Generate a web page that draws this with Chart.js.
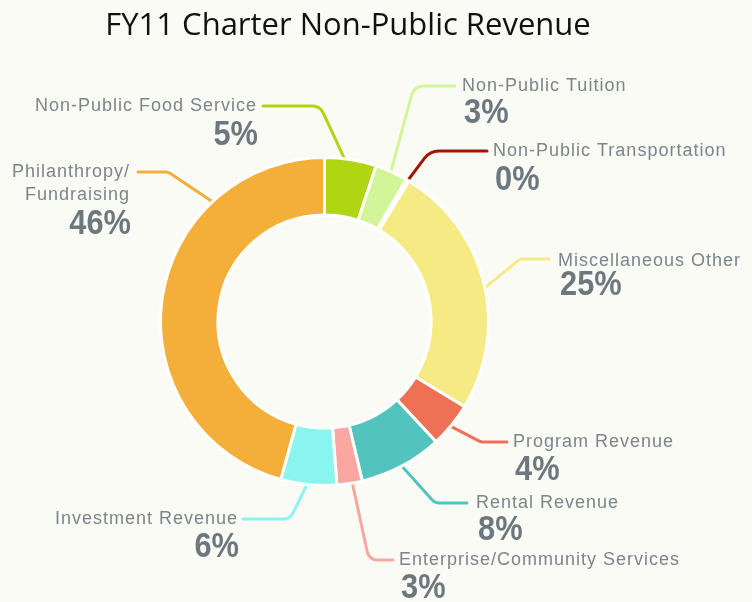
<!DOCTYPE html>
<html>
<head>
<meta charset="utf-8">
<title>FY11 Charter Non-Public Revenue</title>
<script src="https://cdn.jsdelivr.net/npm/chart.js@4.4.1/dist/chart.umd.min.js"></script>
<style>
  html, body { margin: 0; padding: 0; background: #fbfbf6; }
  #wrap { width: 752px; height: 602px; position: relative; }
</style>
</head>
<body>
<div id="wrap"><canvas id="revenueChart" width="752" height="602"></canvas></div>
<script>
const chartTitle = 'FY11 Charter Non-Public Revenue';
const categories = [
  'Non-Public Food Service',
  'Non-Public Tuition',
  'Non-Public Transportation',
  'Miscellaneous Other',
  'Program Revenue',
  'Rental Revenue',
  'Enterprise/Community Services',
  'Investment Revenue',
  'Philanthropy/Fundraising'
];
const shares = [5.1, 3.2, 0.3, 25.1, 4.4, 8.2, 2.5, 5.5, 45.7];
const pctLabels = ['5%', '3%', '0%', '25%', '4%', '8%', '3%', '6%', '46%'];
const sliceColors = ['#b0d513', '#d2f597', '#9b1a00', '#f6ea84', '#ee7055', '#52c4bd', '#f9a7a0', '#8af5ef', '#f4af3a'];

// callout placement: where the leader leaves the slice (t), bend, end, and text anchor
const callouts = [
  { t: 0.43, elbow: [320, 106], end: [263, 106], r: 12, align: 'right', tx: 256, ty: 106, py: 135 },
  { t: 0.5,  elbow: [414, 86],  end: [455, 86],  r: 12, align: 'left',  tx: 462, ty: 86,  py: 113 },
  { t: 0.5,  elbow: [430, 151], end: [487, 151], r: 18, align: 'left',  tx: 493, ty: 151, py: 180 },
  { t: 0.53, elbow: [520, 259], end: [549, 259], r: 6,  align: 'left',  tx: 558, ty: 261, py: 285 },
  { t: 0.55, elbow: [481, 442], end: [507, 442], r: 8,  align: 'left',  tx: 513, ty: 442, py: 470 },
  { t: 0.51, elbow: [435, 503], end: [467, 503], r: 10, align: 'left',  tx: 476, ty: 503, py: 530 },
  { t: 0.4,  elbow: [369, 560], end: [393, 560], r: 10, align: 'left',  tx: 399, ty: 560, py: 588 },
  { t: 0.5,  elbow: [290, 519], end: [243, 519], r: 10, align: 'right', tx: 237, ty: 519, py: 547 },
  { t: 0.74, elbow: [168, 172], end: [138, 172], r: 8,  align: 'right', tx: 129, ty: 172, py: 224, wrap: true }
];

const labelFont = '18px "Liberation Sans", Arial, sans-serif';
const pctFont = 'bold 35px "Liberation Sans", Arial, sans-serif';

const calloutPlugin = {
  id: 'callouts',
  beforeDatasetsDraw(chart) {
    const ctx = chart.ctx;
    const arcs = chart.getDatasetMeta(0).data;
    ctx.save();
    ctx.lineWidth = 3;
    ctx.lineCap = 'round';
    ctx.lineJoin = 'round';
    arcs.forEach((arc, i) => {
      const c = callouts[i];
      const p = arc.getProps(['x', 'y', 'startAngle', 'endAngle', 'outerRadius'], true);
      const a = p.startAngle + c.t * (p.endAngle - p.startAngle);
      const sx = p.x + Math.cos(a) * (p.outerRadius - 4);
      const sy = p.y + Math.sin(a) * (p.outerRadius - 4);
      ctx.strokeStyle = sliceColors[i];
      ctx.beginPath();
      ctx.moveTo(sx, sy);
      ctx.arcTo(c.elbow[0], c.elbow[1], c.end[0], c.end[1], c.r);
      ctx.lineTo(c.end[0], c.end[1]);
      ctx.stroke();
    });
    ctx.restore();
  },
  afterDraw(chart) {
    const ctx = chart.ctx;
    ctx.save();
    ctx.textBaseline = 'middle';
    ctx.fillStyle = '#111';
    ctx.textAlign = 'center';
    ctx.font = '31px "Open Sans", "Liberation Sans", sans-serif';
    ctx.fillText(chartTitle, 348, 26);

    categories.forEach((name, i) => {
      const c = callouts[i];
      ctx.textAlign = c.align;
      ctx.font = labelFont;
      ctx.letterSpacing = '1px';
      ctx.fillStyle = '#7b858c';
      const lines = c.wrap ? name.replace('/', '/\n').split('\n') : [name];
      const nudge = c.align === 'right' ? 1 : 0; // trailing spacing
      lines.forEach((ln, k) => ctx.fillText(ln, c.tx + nudge, c.ty + k * 23));
      // bold percentages are condensed in the original
      ctx.letterSpacing = '0px';
      ctx.font = pctFont;
      ctx.fillStyle = '#6c777e';
      ctx.save();
      ctx.translate(c.tx + 2, c.py);
      ctx.scale(0.88, 1);
      ctx.fillText(pctLabels[i], 0, 0);
      ctx.restore();
    });
    ctx.restore();
  }
};

new Chart(document.getElementById('revenueChart'), {
  type: 'doughnut',
  data: {
    labels: categories,
    datasets: [{
      data: shares,
      backgroundColor: sliceColors,
      borderColor: '#ffffff',
      borderWidth: 3
    }]
  },
  options: {
    responsive: false,
    animation: false,
    cutout: '65%',
    layout: { padding: { left: 159, top: 156, right: 262, bottom: 115 } },
    plugins: {
      legend: { display: false },
      tooltip: { enabled: false },
      title: { display: false }
    }
  },
  plugins: [calloutPlugin]
});
</script>
</body>
</html>
